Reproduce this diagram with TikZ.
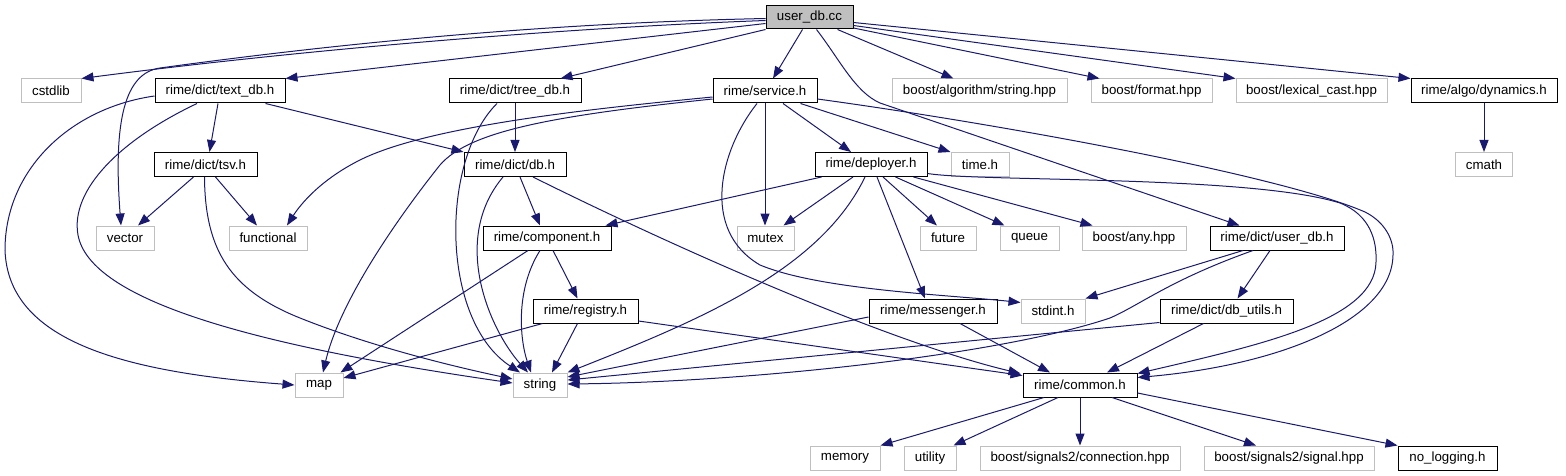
\documentclass[tikz,border=0pt]{standalone}
\usepackage{fontspec}
\setmainfont{Liberation Sans}
\usetikzlibrary{arrows.meta,calc}
\definecolor{edgec}{HTML}{191970}
\definecolor{extc}{HTML}{BFBFBF}
\tikzset{
  base/.style={line width=1pt, minimum height=24pt, inner sep=0pt, anchor=center,
    font=\fontsize{13.3}{15}\selectfont},
  intbox/.style={base, draw=black, fill=white},
  extbox/.style={base, draw=extc, fill=white},
  rootbox/.style={base, draw=black, fill=extc},
  e/.style={draw=edgec, line width=1pt, -{Triangle[length=12pt,width=9pt]}},
}
\begin{document}
\begin{tikzpicture}[x=1pt,y=-1pt]
\useasboundingbox (0,0) rectangle (1566,476);
% row 0
\node[rootbox, minimum width=87pt, minimum height=23pt] (usercc) at (809.5,17.5) {user\_db.cc};
% row 1
\node[extbox, minimum width=60pt] (cstdlib) at (51,91) {cstdlib};
\node[intbox, minimum width=130pt] (textdb) at (220,91) {rime/dict/text\_db.h};
\node[intbox, minimum width=132pt] (treedb) at (515,91) {rime/dict/tree\_db.h};
\node[intbox, minimum width=104pt] (service) at (765,91) {rime/service.h};
\node[extbox, minimum width=175pt] (algstr) at (979.5,91) {boost/algorithm/string.hpp};
\node[extbox, minimum width=121pt] (format) at (1151.5,91) {boost/format.hpp};
\node[extbox, minimum width=151pt] (lexcast) at (1311.5,91) {boost/lexical\_cast.hpp};
\node[intbox, minimum width=146pt] (dynamics) at (1484,91) {rime/algo/dynamics.h};
% row 2
\node[intbox, minimum width=103pt] (tsv) at (205.5,164.5) {rime/dict/tsv.h};
\node[intbox, minimum width=102pt] (dbh) at (515,164.5) {rime/dict/db.h};
\node[intbox, minimum width=112pt] (deployer) at (871,164.5) {rime/deployer.h};
\node[extbox, minimum width=58pt] (timeh) at (980,164.5) {time.h};
\node[extbox, minimum width=57pt] (cmath) at (1484,164.5) {cmath};
% row 3
\node[extbox, minimum width=58pt] (vector) at (125,238) {vector};
\node[extbox, minimum width=78pt] (functional) at (268,238) {functional};
\node[intbox, minimum width=128pt] (component) at (547,238) {rime/component.h};
\node[extbox, minimum width=57pt] (mutex) at (765.5,238) {mutex};
\node[extbox, minimum width=56pt] (future) at (948,238) {future};
\node[extbox, minimum width=59pt] (queue) at (1029.5,238) {queue};
\node[extbox, minimum width=104pt] (anyhpp) at (1134,238) {boost/any.hpp};
\node[intbox, minimum width=134pt] (userdbh) at (1277,238) {rime/dict/user\_db.h};
% row 4
\node[intbox, minimum width=105pt] (registry) at (585.5,311) {rime/registry.h};
\node[intbox, minimum width=128pt] (messenger) at (933,311) {rime/messenger.h};
\node[extbox, minimum width=64pt] (stdint) at (1053,311) {stdint.h};
\node[intbox, minimum width=133pt] (dbutils) at (1226.5,311) {rime/dict/db\_utils.h};
% row 5
\node[extbox, minimum width=48pt] (map) at (319,385) {map};
\node[extbox, minimum width=54pt] (string) at (540,385) {string};
\node[intbox, minimum width=114pt] (common) at (1080,385) {rime/common.h};
% row 6
\node[extbox, minimum width=70pt] (memory) at (845,458) {memory};
\node[extbox, minimum width=52pt] (utility) at (930,458) {utility};
\node[extbox, minimum width=200pt] (connection) at (1080,458) {boost/signals2/connection.hpp};
\node[extbox, minimum width=170pt] (signal) at (1289,458) {boost/signals2/signal.hpp};
\node[intbox, minimum width=99pt] (nolog) at (1447.5,458) {no\_logging.h};

% edges from user_db.cc
\draw[e] ($(usercc.west)+(0,3)$) .. controls (560,28) and (300,50) .. (cstdlib.north east);
\draw[e] ($(usercc.west)+(0,6)$) -- (textdb.north east);
\draw[e] ($(usercc.west)+(0,1)$) .. controls (600,22) and (400,35) .. (160,68) .. controls (125,73) and (113,120) .. ($(vector.north)+(-4,0)$);
\draw[e] (usercc.south west) -- ($(treedb.north east)+(-21,0)$);
\draw[e] ($(usercc.south)+(-7,0)$) -- ($(service.north)+(8,0)$);
\draw[e] ($(usercc.south east)+(-16,0)$) -- ($(algstr.north)+(-26,0)$);
\draw[e] ($(usercc.east)+(0,10.5)$) -- ($(format.north west)+(9,0)$);
\draw[e] ($(usercc.east)+(0,8)$) -- (lexcast.north west);
\draw[e] ($(usercc.east)+(0,5)$) -- (dynamics.north west);
\draw[e] ($(usercc.south)+(7,0)$) .. controls (840,60) and (855,92) .. (880,103) -- ($(userdbh.north west)+(30,0)$);

% text_db.h
\draw[e] ($(textdb.west)+(0,5)$) .. controls (70,108) and (5,170) .. (5,250) .. controls (8,340) and (120,372) .. (map.west);
\draw[e] ($(textdb.south)+(-23,0)$) .. controls (120,140) and (70,190) .. (78,235) .. controls (90,300) and (250,345) .. ($(string.west)+(0,-2)$);
\draw[e] ($(textdb.south)+(-2,0)$) -- ($(tsv.north)+(4,0)$);
\draw[e] ($(textdb.south east)+(-20,0)$) -- (dbh.north west);

% tree_db.h
\draw[e] (treedb.south) -- (dbh.north);
\draw[e] ($(treedb.south)+(-18,0)$) .. controls (440,160) and (440,320) .. ($(string.north)+(-20,0)$);

% tsv.h
\draw[e] ($(tsv.south)+(-1,0)$) .. controls (205,250) and (230,290) .. (300,318) .. controls (380,350) and (470,370) .. ($(string.west)+(0,-6)$);
\draw[e] ($(tsv.south)+(-12,0)$) -- ($(vector.north)+(13,0)$);
\draw[e] ($(tsv.south)+(10,0)$) -- ($(functional.north)+(-11,0)$);

% service.h
\draw[e] ($(service.west)+(0,6)$) .. controls (600,108) and (430,125) .. (360,160) .. controls (320,180) and (300,205) .. ($(functional.north)+(19,0)$);
\draw[e] ($(service.west)+(0,8)$) .. controls (560,115) and (470,130) .. (440,165) .. controls (400,215) and (340,300) .. ($(map.north)+(4,0)$);
\draw[e] (service.south) -- (service.south |- mutex.north);
\draw[e] ($(service.south)+(18,0)$) -- ($(deployer.north)+(-20,0)$);
\draw[e] ($(service.south east)+(-17,0)$) -- (timeh.north west);
\draw[e] ($(service.south)+(-8,0)$) .. controls (720,150) and (700,230) .. (760,265) .. controls (820,290) and (950,295) .. ($(stdint.north west)+(0,4)$);
\draw[e] ($(service.east)+(0,8)$) .. controls (1000,124) and (1280,175) .. (1365,212) .. controls (1385,222) and (1394,240) .. (1393,255) .. controls (1392,320) and (1280,365) .. ($(common.north east)+(0,5)$);

% deployer.h
\draw[e] ($(deployer.south west)+(7,0)$) -- ($(component.north east)+(-6,0)$);
\draw[e] ($(deployer.south)+(-18,0)$) -- ($(mutex.north east)+(-11,0)$);
\draw[e] ($(deployer.south)+(-6,0)$) .. controls (820,270) and (700,320) .. (string.north east);
\draw[e] ($(deployer.south)+(6,0)$) -- ($(messenger.north)+(-8,0)$);
\draw[e] ($(deployer.south)+(12,0)$) -- ($(future.north)+(-11,0)$);
\draw[e] ($(deployer.south east)+(-32,0)$) -- ($(queue.north west)+(5,0)$);
\draw[e] ($(deployer.south east)+(-14,0)$) -- ($(anyhpp.north west)+(11,0)$);
\draw[e] ($(deployer.east)+(0,9)$) .. controls (980,182) and (1250,175) .. (1340,203) .. controls (1370,215) and (1377,240) .. (1376,262) .. controls (1375,320) and (1260,345) .. ($(common.north east)+(0,1)$);

% db.h
\draw[e] ($(dbh.south)+(5,0)$) -- ($(component.north)+(-7,0)$);
\draw[e] ($(dbh.south)+(-12,0)$) .. controls (450,240) and (490,330) .. ($(string.north)+(-12,0)$);
\draw[e] ($(dbh.south)+(18,0)$) .. controls (700,260) and (900,345) .. ($(common.north west)+(-2,1)$);

% component.h
\draw[e] ($(component.south)+(-19,0)$) -- ($(map.north east)+(-3,0)$);
\draw[e] ($(component.south)+(-7,0)$) .. controls (515,290) and (520,340) .. ($(string.north)+(-9,0)$);
\draw[e] ($(component.south)+(6,0)$) -- ($(registry.north)+(-8,0)$);

% registry.h
\draw[e] ($(registry.south west)+(10,0)$) -- ($(map.east)+(0,-7)$);
\draw[e] ($(registry.south)+(-8,0)$) -- ($(string.north)+(12,0)$);
\draw[e] ($(registry.east)+(0,10)$) -- ($(common.north west)+(0,3)$);

% messenger.h
\draw[e] ($(messenger.west)+(0,6)$) -- ($(string.east)+(0,-8)$);
\draw[e] ($(messenger.south)+(27,0)$) -- ($(common.north)+(-30,0)$);

% user_db.h
\draw[e] ($(userdbh.south)+(-34,0)$) -- (stdint.north east);
\draw[e] ($(userdbh.south)+(-24,0)$) .. controls (1170,280) and (1140,305) .. (1110,318) .. controls (1000,355) and (750,382) .. ($(string.east)+(0,-1)$);
\draw[e] ($(userdbh.south)+(-7,0)$) -- ($(dbutils.north)+(11,0)$);

% db_utils.h
\draw[e] ($(dbutils.south west)+(0,-1)$) -- ($(string.east)+(0,-5)$);
\draw[e] ($(dbutils.south)+(-23,0)$) -- ($(common.north)+(27,0)$);

% common.h
\draw[e] ($(common.south)+(-36,0)$) -- (memory.north east);
\draw[e] ($(common.south)+(-22,0)$) -- ($(utility.north east)+(-3,0)$);
\draw[e] (common.south) -- (connection.north);
\draw[e] ($(common.south)+(32,0)$) -- ($(signal.north)+(-33,0)$);
\draw[e] ($(common.east)+(0,8)$) -- (nolog.north west);

% dynamics.h
\draw[e] (dynamics.south) -- (dynamics.south |- cmath.north);
\end{tikzpicture}
\end{document}
